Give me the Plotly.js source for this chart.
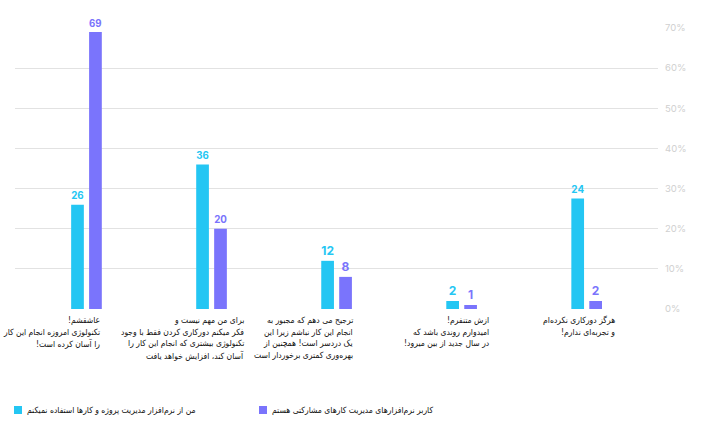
<!DOCTYPE html>
<html>
<head>
<meta charset="utf-8">
<script src="https://cdn.plot.ly/plotly-3.0.1.min.js"></script>
<style>html,body{margin:0;padding:0;background:#fff;}#chart{width:712px;height:433px;}</style>
</head>
<body>
<div id="chart"></div>
<script>
// ---- data ----
const categories = ["c1", "c2", "c3", "c4", "c5"];
const categoryLabels = [
  ["عاشقشم!", "تکنولوژی امروزه انجام این کار", "را آسان کرده است!"],
  ["برای من مهم نیست و", "فکر میکنم دورکاری کردن فقط با وجود", "تکنولوژی بیشتری که انجام این کار را", "آسان کند، افزایش خواهد یافت"],
  ["ترجیح می دهم که مجبور به", "انجام این کار نباشم زیرا این", "یک دردسر است! همچنین از", "بهره‌وری کمتری برخوردار است"],
  ["ازش متنفرم!", "امیدوارم روندی باشد که", "در سال جدید از بین میرود!"],
  ["هرگز دورکاری نکرده‌ام", "و تجربه‌ای ندارم!"]
];
const seriesNames = [
  "من از نرم‌افزار مدیریت پروژه و کارها استفاده نمیکنم",
  "کاربر نرم‌افزارهای مدیریت کارهای مشارکتی هستم"
];
const nonUsersValues = [26, 36, 12, 2, 27.5];
const nonUsersLabels = ["26", "36", "12", "2", "24"];
const usersValues = [69, 20, 8, 1, 2];
const usersLabels = ["69", "20", "8", "1", "2"];
const yTickValues = [0, 10, 20, 30, 40, 50, 60, 70];
const yTickLabels = ["0%", "10%", "20%", "30%", "40%", "50%", "60%", "70%"];

// ---- style ----
const cyan = '#24C6F3';
const purple = '#7A74FC';
const barW = 0.1016;
const offA = -0.122, offB = 0.0216;
const xRange = [-0.571, 4.571];
const W = 712, H = 433, mL = 15, mR = 54, mT = 28, mB = 124;
const labelRightShift = [15.5, 34.5, 18.5, 29.5, 30.5]; // px from category centre
const lineStep = 11.6;
const arFont = "DejaVu Sans Condensed, DejaVu Sans, sans-serif";
const arSize = 8.5;
const numFont = "Inter, Roboto, sans-serif";

const traces = [
  {type: 'bar', name: seriesNames[0], x: categories, y: nonUsersValues,
   width: barW, offset: offA, marker: {color: cyan},
   text: nonUsersLabels, texttemplate: '%{text}', textposition: 'outside',
   textfont: {color: cyan, size: 12, family: numFont, weight: 700},
   cliponaxis: false, hoverinfo: 'skip', showlegend: false},
  {type: 'bar', name: seriesNames[1], x: categories, y: usersValues,
   width: barW, offset: offB, marker: {color: purple},
   text: usersLabels, texttemplate: '%{text}', textposition: 'outside',
   textfont: {color: purple, size: 12, family: numFont, weight: 700},
   cliponaxis: false, hoverinfo: 'skip', showlegend: false}
];

const annotations = [];
categories.forEach((c, i) => {
  categoryLabels[i].forEach((line, j) => {
    annotations.push({
      x: c, y: 0, xref: 'x', yref: 'paper', text: line + '\u200F',
      xanchor: 'right', yanchor: 'top', align: 'right',
      xshift: labelRightShift[i], yshift: -4 - j * lineStep,
      showarrow: false, font: {family: arFont, size: arSize, color: '#111'}
    });
  });
});

const plotH = H - mT - mB;
const legY = (H - mB - 410) / plotH;
const legX = [(14 - mL) / (W - mL - mR), (259 - mL) / (W - mL - mR)];
const legColors = [cyan, purple];
const shapes = [];
legX.forEach((lx, i) => {
  shapes.push({type: 'rect', xref: 'paper', yref: 'paper',
    xsizemode: 'pixel', ysizemode: 'pixel', xanchor: lx, yanchor: legY,
    x0: 0, x1: 8, y0: -4, y1: 4, line: {width: 0}, fillcolor: legColors[i]});
  annotations.push({x: lx, y: legY, xref: 'paper', yref: 'paper',
    xanchor: 'left', yanchor: 'middle', xshift: 11, showarrow: false,
    text: seriesNames[i] + '\u200F', font: {family: arFont, size: arSize, color: '#111'}});
});

const layout = {
  width: W, height: H,
  margin: {l: mL, r: mR, t: mT, b: mB, pad: 0},
  paper_bgcolor: '#fff', plot_bgcolor: '#fff',
  barmode: 'group',
  showlegend: false,
  xaxis: {type: 'category', range: xRange, showticklabels: false, showgrid: false,
          zeroline: false, showline: false, ticks: ''},
  yaxis: {side: 'right', range: [0, 70], tickvals: yTickValues, ticktext: yTickLabels,
          showgrid: true, gridcolor: '#e2e2e2', gridwidth: 1, zeroline: false,
          showline: false, ticks: '', ticklabelstandoff: 6,
          tickfont: {family: numFont, size: 9.5, color: '#d0d0d0'}},
  annotations: annotations,
  shapes: shapes
};

Plotly.newPlot('chart', traces, layout, {displayModeBar: false, staticPlot: true});
</script>
</body>
</html>
